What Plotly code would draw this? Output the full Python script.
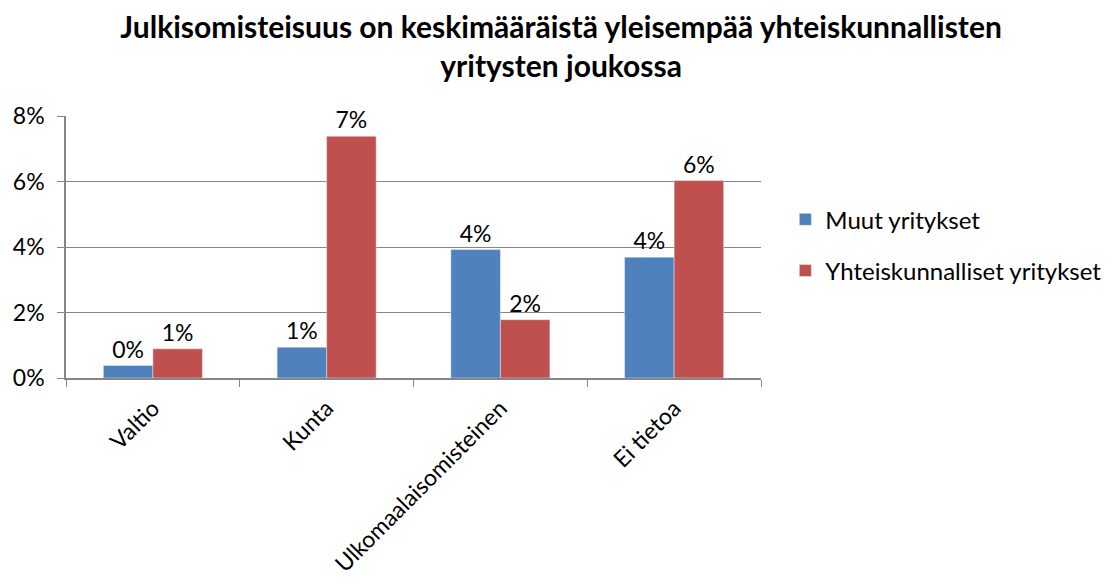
import plotly.graph_objects as go

# data (shares, as fractions)
categories = ["Valtio", "Kunta", "Ulkomaalaisomisteinen", "Ei tietoa"]
muut = [0.0038, 0.0094, 0.0392, 0.0369]
yhteiskunnalliset = [0.0089, 0.0738, 0.0178, 0.0603]
series_names = ["Muut yritykset", "Yhteiskunnalliset yritykset"]
y_ticks = [0, 0.02, 0.04, 0.06, 0.08]

FONT = "Lato, Open Sans, sans-serif"
GRID = "#868686"

fig = go.Figure()
fig.add_trace(go.Bar(
    x=categories, y=muut, name=series_names[0],
    marker=dict(color="#4F81BD"),
    texttemplate="%{y:.0%}", textposition="outside",
    textfont=dict(size=23, color="#000000"),
    cliponaxis=False, legendgroup="a",
))
fig.add_trace(go.Bar(
    x=categories, y=yhteiskunnalliset, name=series_names[1],
    marker=dict(color="#C0504D"),
    texttemplate="%{y:.0%}", textposition="outside",
    textfont=dict(size=23, color="#000000"),
    cliponaxis=False, legendgroup="b",
))

# the page body has an 8px margin, so the figure is 8px smaller and shifted
fig.update_layout(
    width=1104, height=580,
    paper_bgcolor="white", plot_bgcolor="white",
    font=dict(family=FONT, color="#000000"),
    title=dict(
        text="<b>Julkisomisteisuus on keskimääräistä yleisempää yhteiskunnallisten<br>yritysten joukossa</b>",
        xref="container", x=0.501, xanchor="center",
        yref="container", y=0.948, yanchor="top",
        font=dict(size=30, family=FONT),
    ),
    barmode="group", bargap=0.43, bargroupgap=0,
    margin=dict(l=58, r=351, t=108, b=210, autoexpand=False),
    showlegend=True,
    legend=dict(
        x=1.035, xanchor="left", y=0.69, yanchor="top",
        font=dict(size=24, family=FONT),
        tracegroupgap=17, itemwidth=30,
    ),
    xaxis=dict(
        type="category", tickangle=-45,
        tickfont=dict(size=23, family=FONT),
        showline=True, linecolor=GRID, linewidth=1.5,
        ticks="outside", tickson="boundaries", ticklen=7, tickcolor=GRID,
        ticklabelstandoff=6,
        showgrid=False,
    ),
    yaxis=dict(
        range=[0, 0.08], tickvals=y_ticks, tickformat=".0%",
        tickfont=dict(size=23, family=FONT),
        showline=True, linecolor=GRID, linewidth=1.5,
        ticks="outside", ticklen=7, tickcolor=GRID,
        ticklabelstandoff=8,
        showgrid=True, gridcolor=GRID, gridwidth=1.2,
        zeroline=False,
    ),
)

fig.write_html("out.html")
